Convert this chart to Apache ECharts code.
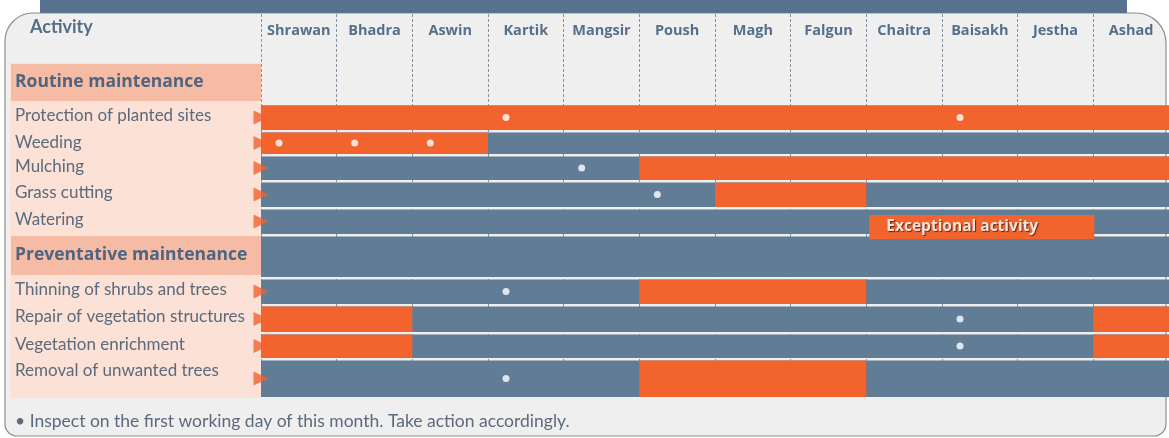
<!DOCTYPE html>
<html lang="en">
<head>
<meta charset="utf-8">
<title>maintenanceCalendar</title>
<style>
    html, body { margin: 0; padding: 0; background: #ffffff; }
    #main { width: 1169px; height: 438px; }
</style>
</head>
<body>
<div id="main"></div>
<script src="https://cdn.jsdelivr.net/npm/echarts@6/dist/echarts.min.js"></script>
<script>
var myChart = echarts.init(document.getElementById('main'));

var months = ['Shrawan', 'Bhadra', 'Aswin', 'Kartik', 'Mangsir', 'Poush', 'Magh', 'Falgun', 'Chaitra', 'Baisakh', 'Jestha', 'Ashad'];
var activities = [
    'Routine maintenance',
    'Protection of planted sites',
    'Weeding',
    'Mulching',
    'Grass cutting',
    'Watering',
    'Preventative maintenance',
    'Thinning of shrubs and trees',
    'Repair of vegetation structures',
    'Vegetation enrichment',
    'Removal of unwanted trees'
];
var groupRows = [0, 6];
// [activity row, first month, month after last]
var workPeriods = [
    [1, 0, 12],
    [2, 0, 3],
    [3, 5, 12],
    [4, 6, 8],
    [7, 5, 8],
    [8, 0, 2], [8, 11, 12],
    [9, 0, 2], [9, 11, 12],
    [10, 5, 8]
];
var exceptionalPeriods = [[5, 8, 11, 'Exceptional activity']];
// [activity row, month]  -> inspect on first working day
var inspections = [
    [1, 3], [1, 9],
    [2, 0], [2, 1], [2, 2],
    [3, 4],
    [4, 5],
    [7, 3],
    [8, 9],
    [9, 9],
    [10, 3]
];
var footNote = '\u2022 Inspect on the first working day of this month. Take action accordingly.';

// layout (px units on the y axis)
var headerH = 49;
var rowH = [41, 27, 24, 26, 27, 27, 43, 27, 28, 26, 39];
var totalH = headerH + rowH.reduce(function (a, b) { return a + b; }, 0);

function rowTop(i) {
    var t = headerH;
    for (var k = 0; k < i; k++) t += rowH[k];
    return t;
}
function rowMid(i) {
    return rowTop(i) + rowH[i] / 2;
}

var ORANGE = '#f3632e';
var SLATE = '#617c95';
var TEXT = '#5b6a7c';
var FONT = 'Lato, "Open Sans", sans-serif';
var BOLD_FONT = '"Open Sans", Lato, sans-serif';

var rowIdx = activities.map(function (a, i) { return [i]; });
var taskRows = [];
activities.forEach(function (a, i) {
    if (groupRows.indexOf(i) < 0) taskRows.push([0, rowMid(i)]);
});
var dotData = inspections.map(function (d) { return [d[1], rowMid(d[0])]; });

function renderLabel(params, api) {
    var i = api.value(0);
    var p0 = api.coord([0, rowTop(i)]);
    var p1 = api.coord([0, rowTop(i) + rowH[i]]);
    var isGroup = groupRows.indexOf(i) >= 0;
    var kids = [{
        type: 'rect',
        shape: { x: 10, y: p0[1], width: p0[0] - 10, height: p1[1] - p0[1] },
        style: { fill: '#fbe1d6' }
    }];
    if (isGroup) {
        kids.push({
            type: 'rect',
            shape: { x: 11, y: p0[1] + 1, width: p0[0] - 11, height: p1[1] - p0[1] - 4 },
            style: { fill: '#f6bba5' }
        });
    }
    kids.push({
        type: 'text',
        x: 15,
        y: isGroup ? (p0[1] + p1[1]) / 2 - 1 : p0[1] + 12,
        style: {
            text: activities[i],
            fill: isGroup ? '#4e6580' : TEXT,
            font: isGroup ? 'bold 17.5px ' + BOLD_FONT : '17px ' + FONT,
            verticalAlign: 'middle',
            align: 'left'
        }
    });
    return { type: 'group', children: kids };
}

function renderTrack(params, api) {
    var i = api.value(0);
    if (i === 0) return;
    var a = api.coord([0, rowTop(i)]);
    var b = api.coord([12, rowTop(i) + rowH[i]]);
    return {
        type: 'rect',
        shape: { x: a[0], y: a[1] + 1.5, width: b[0] - a[0], height: b[1] - a[1] - 2.5 },
        style: { fill: SLATE }
    };
}

function renderPeriod(params, api) {
    var i = api.value(0);
    var a = api.coord([api.value(1), rowTop(i)]);
    var b = api.coord([api.value(2), rowTop(i) + rowH[i]]);
    return {
        type: 'rect',
        shape: { x: a[0], y: a[1] + 1.5, width: b[0] - a[0], height: b[1] - a[1] - 2.5 },
        style: { fill: ORANGE }
    };
}

function renderExceptional(params, api) {
    var i = api.value(0);
    var a = api.coord([api.value(1), rowTop(i)]);
    var b = api.coord([api.value(2), rowTop(i) + rowH[i]]);
    return {
        type: 'group',
        children: [{
            type: 'rect',
            shape: { x: a[0] + 3, y: a[1] + 7, width: b[0] - a[0] - 2, height: b[1] - a[1] - 3 },
            style: { fill: ORANGE }
        }, {
            type: 'text',
            x: a[0] + 20,
            y: a[1] + 7 + (b[1] - a[1] - 3) / 2,
            style: {
                text: exceptionalPeriods[params.dataIndex][3],
                fill: '#f4e4da',
                font: 'bold 15.5px ' + BOLD_FONT,
                verticalAlign: 'middle',
                textShadowColor: '#5a2a1c',
                textShadowOffsetX: 1,
                textShadowOffsetY: 1,
                textShadowBlur: 1
            }
        }]
    };
}

option = {
    backgroundColor: '#ffffff',
    animation: false,
    graphic: [{
        type: 'rect',
        z: -10,
        shape: { x: 5, y: 13, width: 1161, height: 423, r: [28, 30, 12, 12] },
        style: { fill: '#efefef', stroke: '#8e8e8e', lineWidth: 1.2 }
    }, {
        type: 'rect',
        z: -9,
        shape: { x: 40, y: 0, width: 1087, height: 13 },
        style: { fill: '#58728d' }
    }, {
        type: 'text',
        x: 30,
        y: 27,
        z: 10,
        style: { text: 'Activity', fill: '#566d86', font: 'bold 18px ' + FONT, verticalAlign: 'middle' }
    }, {
        type: 'text',
        x: 15,
        y: 421,
        z: 10,
        style: { text: footNote, fill: TEXT, font: '17.5px ' + FONT, verticalAlign: 'middle' }
    }],
    grid: {
        left: 261,
        right: 0,
        top: 14,
        bottom: 438 - 14 - totalH
    },
    xAxis: [{
        type: 'value',
        min: 0,
        max: 12,
        show: false
    }, {
        type: 'category',
        data: months,
        position: 'top',
        boundaryGap: true,
        axisLine: { show: false },
        axisTick: { show: false },
        axisLabel: {
            interval: 0,
            inside: true,
            margin: 9,
            color: '#56708b',
            fontFamily: BOLD_FONT,
            fontWeight: 'bold',
            fontSize: 14.5
        },
        splitLine: {
            show: true,
            interval: 0,
            lineStyle: { color: '#8592a1', width: 1, type: [3, 2] }
        }
    }],
    yAxis: {
        type: 'value',
        min: 0,
        max: totalH,
        inverse: true,
        show: false
    },
    series: [{
        name: 'labels',
        type: 'custom',
        renderItem: renderLabel,
        data: rowIdx,
        clip: false,
        silent: true
    }, {
        name: 'tracks',
        type: 'custom',
        renderItem: renderTrack,
        data: rowIdx,
        silent: true
    }, {
        name: 'work',
        type: 'custom',
        renderItem: renderPeriod,
        data: workPeriods
    }, {
        name: 'exceptional',
        type: 'custom',
        renderItem: renderExceptional,
        data: exceptionalPeriods,
        clip: false
    }, {
        name: 'markers',
        type: 'scatter',
        symbol: 'triangle',
        symbolRotate: -90,
        symbolSize: [14, 15],
        itemStyle: { color: ORANGE },
        data: taskRows,
        silent: true
    }, {
        name: 'inspect',
        type: 'scatter',
        symbolSize: 7,
        symbolOffset: [18, 0],
        itemStyle: { color: '#ffffff' },
        data: dotData
    }]
};

myChart.setOption(option);
</script>
</body>
</html>
